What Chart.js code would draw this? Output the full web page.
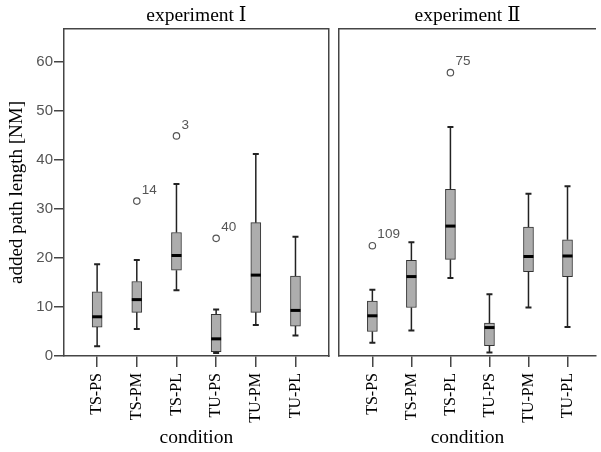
<!DOCTYPE html>
<html>
<head>
<meta charset="utf-8">
<script src="https://cdn.jsdelivr.net/npm/chart.js@4/dist/chart.umd.min.js"></script>
<style>
  body { margin: 0; background: #fff; }
  #wrap { position: relative; width: 601px; height: 452px; overflow: hidden; }
  #exp1 { position: absolute; left: 0; top: 0; }
  #exp2 { position: absolute; left: 334px; top: 0; }
</style>
</head>
<body>
<div id="wrap">
  <canvas id="exp1" width="334" height="452"></canvas>
  <canvas id="exp2" width="267" height="452"></canvas>
</div>
<script>
const conditions = ['TS-PS', 'TS-PM', 'TS-PL', 'TU-PS', 'TU-PM', 'TU-PL'];
const yTicks = [0, 10, 20, 30, 40, 50, 60];

// experiment I
const exp1Min = [2.0, 5.5, 13.4, 0.6, 6.3, 4.2];
const exp1Q1 = [5.9, 8.9, 17.5, 0.9, 8.9, 6.1];
const exp1Median = [8.0, 11.5, 20.5, 3.5, 16.5, 9.3];
const exp1Q3 = [13.1, 15.2, 25.2, 8.5, 27.2, 16.3];
const exp1Max = [18.7, 19.6, 35.1, 9.5, 41.2, 24.3];
const exp1OutlierCond = [1, 2, 3];
const exp1OutlierValue = [31.6, 44.9, 24.0];
const exp1OutlierCase = ['14', '3', '40'];

// experiment II
const exp2Min = [2.7, 5.2, 15.9, 0.7, 9.9, 5.9];
const exp2Q1 = [5.0, 9.9, 19.7, 2.1, 17.2, 16.2];
const exp2Median = [8.2, 16.2, 26.5, 5.8, 20.3, 20.4];
const exp2Q3 = [11.2, 19.5, 34.0, 6.7, 26.3, 23.7];
const exp2Max = [13.5, 23.2, 46.7, 12.6, 33.1, 34.6];
const exp2OutlierCond = [0, 2];
const exp2OutlierValue = [22.5, 57.8];
const exp2OutlierCase = ['109', '75'];

const serif = '"Liberation Serif", "DejaVu Serif", "Times New Roman", serif';
const sans = '"Liberation Sans", Arial, sans-serif';
const frameColor = '#454545';

function makePanel(canvasId, title, stats, outliers, layout) {
  const boxes = conditions.map((c, i) => ({ x: i, y: [stats.q1[i], stats.q3[i]] }));
  const points = outliers.cond.map((c, i) => ({ x: c, y: outliers.value[i] }));

  const boxExtras = {
    id: 'boxExtras',
    afterDatasetsDraw(chart) {
      const ctx = chart.ctx;
      const xs = chart.scales.x;
      const ys = chart.scales.y;
      ctx.save();
      conditions.forEach((c, i) => {
        const px = xs.getPixelForValue(i);
        const yMin = ys.getPixelForValue(stats.min[i]);
        const yMax = ys.getPixelForValue(stats.max[i]);
        const yQ1 = ys.getPixelForValue(stats.q1[i]);
        const yQ3 = ys.getPixelForValue(stats.q3[i]);
        const yMed = ys.getPixelForValue(stats.median[i]);

        ctx.strokeStyle = '#222';
        ctx.lineWidth = 1.5;
        ctx.beginPath();
        ctx.moveTo(px, yQ3); ctx.lineTo(px, yMax);
        ctx.moveTo(px, yQ1); ctx.lineTo(px, yMin);
        ctx.stroke();

        ctx.lineWidth = 2;
        ctx.beginPath();
        ctx.moveTo(px - 3, yMax); ctx.lineTo(px + 3, yMax);
        ctx.moveTo(px - 3, yMin); ctx.lineTo(px + 3, yMin);
        ctx.stroke();

        ctx.strokeStyle = '#000';
        ctx.lineWidth = 3;
        ctx.beginPath();
        ctx.moveTo(px - 5, yMed); ctx.lineTo(px + 5, yMed);
        ctx.stroke();
      });

      ctx.fillStyle = '#555';
      ctx.font = `13.5px ${sans}`;
      ctx.textAlign = 'left';
      ctx.textBaseline = 'middle';
      outliers.cond.forEach((c, i) => {
        const px = xs.getPixelForValue(c);
        const py = ys.getPixelForValue(outliers.value[i]);
        ctx.fillText(outliers.label[i], px + 5, py - 11);
      });
      ctx.restore();
    }
  };

  const scales = {
    x: {
      type: 'linear',
      position: 'bottom',
      min: layout.xMin,
      max: layout.xMax,
      offset: false,
      afterBuildTicks: axis => { axis.ticks = conditions.map((c, i) => ({ value: i })); },
      afterFit: axis => { axis.height = 96; },
      ticks: {
        autoSkip: false,
        minRotation: 90,
        maxRotation: 90,
        padding: 6,
        color: '#000',
        font: { family: serif, size: 16 },
        callback: v => conditions[v]
      },
      grid: { offset: false, drawOnChartArea: false, tickLength: 11, color: frameColor, lineWidth: 1.5 },
      border: { color: frameColor, width: 1.5 },
      title: {
        display: true,
        text: 'condition',
        color: '#000',
        font: { family: serif, size: 19.5 },
        padding: { top: 0, bottom: 2 }
      }
    },
    xTop: {
      type: 'linear',
      position: 'top',
      display: true,
      min: layout.xMin,
      max: layout.xMax,
      afterFit: axis => { axis.height = 29; },
      ticks: { display: false },
      grid: { display: false },
      border: { color: frameColor, width: 1.5 },
      title: {
        display: true,
        text: title,
        color: '#000',
        font: { family: serif, size: 19.5 },
        padding: { top: 4, bottom: 0 }
      }
    },
    y: {
      type: 'linear',
      position: 'left',
      min: 0,
      max: 66.7,
      afterBuildTicks: axis => { axis.ticks = yTicks.map(v => ({ value: v })); },
      afterFit: axis => { axis.width = layout.yWidth; },
      ticks: {
        display: layout.showY,
        padding: 1,
        color: '#555',
        font: { family: sans, size: 15 }
      },
      grid: { display: layout.showY, drawOnChartArea: false, tickLength: 10, color: frameColor, lineWidth: 1.5 },
      border: { color: frameColor, width: 1.5 },
      title: {
        display: layout.showY,
        text: 'added path length [NM]',
        color: '#000',
        font: { family: serif, size: 19 },
        padding: { top: 6, bottom: 0 }
      }
    }
  };

  if (layout.rightFrame) {
    scales.yRight = {
      type: 'linear',
      position: 'right',
      display: true,
      min: 0,
      max: 66.7,
      afterFit: axis => { axis.width = 0; },
      ticks: { display: false },
      grid: { display: false },
      border: { color: frameColor, width: 1.5 }
    };
  }

  return new Chart(document.getElementById(canvasId), {
    type: 'bar',
    data: {
      datasets: [{
        type: 'bar',
        data: boxes,
        barThickness: 10,
        backgroundColor: '#adadad',
        borderColor: '#333',
        borderWidth: 1,
        borderSkipped: false
      }, {
        type: 'scatter',
        data: points,
        pointRadius: 3.2,
        pointBorderWidth: 1.2,
        borderColor: '#555',
        backgroundColor: '#fff'
      }]
    },
    options: {
      responsive: false,
      animation: false,
      layout: { padding: { left: 0, right: layout.padRight, top: 0, bottom: 0 } },
      scales: scales,
      plugins: {
        legend: { display: false },
        tooltip: { enabled: false }
      }
    },
    plugins: [boxExtras]
  });
}

makePanel('exp1', 'experiment Ⅰ',
  { min: exp1Min, q1: exp1Q1, median: exp1Median, q3: exp1Q3, max: exp1Max },
  { cond: exp1OutlierCond, value: exp1OutlierValue, label: exp1OutlierCase },
  { xMin: -0.835, xMax: 5.84, yWidth: 64, showY: true, rightFrame: true, padRight: 3 });

makePanel('exp2', 'experiment Ⅱ',
  { min: exp2Min, q1: exp2Q1, median: exp2Median, q3: exp2Q3, max: exp2Max },
  { cond: exp2OutlierCond, value: exp2OutlierValue, label: exp2OutlierCase },
  { xMin: -0.85, xMax: 5.725, yWidth: 4, showY: false, rightFrame: false, padRight: 0 });
</script>
</body>
</html>
